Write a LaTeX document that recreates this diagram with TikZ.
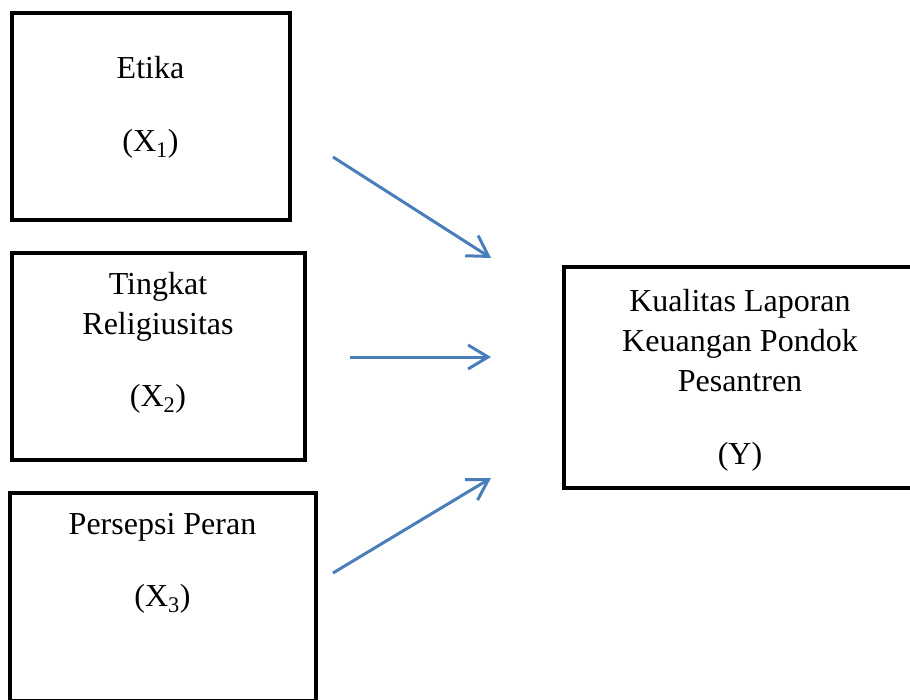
\documentclass[tikz,border=0pt]{standalone}
\usepackage{fontspec}
\setmainfont{Liberation Serif}
\usetikzlibrary{arrows.meta}
\definecolor{linkblue}{HTML}{4A7EBB}

\begin{document}
\begin{tikzpicture}[x=1pt, y=-1pt,
  box/.style = {shape=rectangle, draw, line width=4pt,
    outer sep=0pt, inner sep=0pt, anchor=north west},
  txt/.style = {anchor=north, inner sep=0pt, align=center,
    font=\fontsize{32}{40}\selectfont},
  link/.style = {draw=linkblue, line width=3pt,
    -{Straight Barb[length=20pt, width=24pt]}}]
  \useasboundingbox (0,0) rectangle (910,699);

  % variabel bebas
  \node[box, minimum width=278pt, minimum height=207pt] (etika) at (11.5,12.5) {};
  \node[box, minimum width=293pt, minimum height=207pt] (religi) at (11.5,252.5) {};
  \node[box, minimum width=306pt, minimum height=208pt] (peran) at (9.5,492.5) {};
  % variabel terikat
  \node[box, minimum width=350pt, minimum height=221pt] (kualitas) at (564,266.5) {};

  \node[txt] (etikaTxt) at (150.5,50) {\strut Etika\\[33pt]\strut (X\textsubscript{1})};
  \node[txt] (religiTxt) at (158,266)
    {\strut Tingkat\\\strut Religiusitas\\[32pt]\strut (X\textsubscript{2})};
  \node[txt] (peranTxt) at (162.5,506) {\strut Persepsi Peran\\[32pt]\strut (X\textsubscript{3})};
  \node[txt] (kualitasTxt) at (740,283)
    {\strut Kualitas Laporan\\\strut Keuangan Pondok\\\strut Pesantren\\[33pt]\strut (Y)};

  % panah
  \coordinate (s1) at (333,157);
  \coordinate (e1) at (491,258);
  \coordinate (s2) at (350,357);
  \coordinate (e2) at (491,357);
  \coordinate (s3) at (333,573);
  \coordinate (e3) at (491,478);
  \draw[link] (s1) -- (e1);
  \draw[link] (s2) -- (e2);
  \draw[link] (s3) -- (e3);
\end{tikzpicture}
\end{document}
